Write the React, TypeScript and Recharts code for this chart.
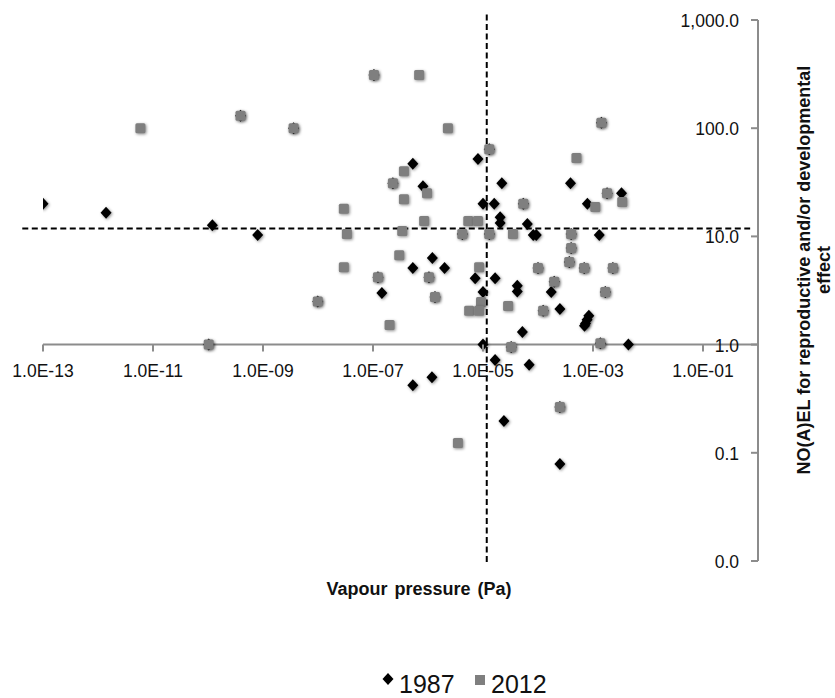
import React from 'react';
import { ScatterChart, Scatter, XAxis, YAxis, ReferenceLine } from 'recharts';

// Vapour pressure (Pa) vs NO(A)EL
const VP_1987 = [
  1.0e-13, 1.4e-12, 1.2e-10, 8.0e-10, 3.9e-10, 3.6e-9, 1.04e-7, 5.3e-7, 2.3e-7, 8.1e-7,
  8.1e-6, 1.3e-5, 2.2e-5, 1.0e-5, 1.6e-5, 2.05e-5, 2.05e-5, 5.4e-5, 6.4e-5, 8.2e-5,
  9.3e-5, 3.9e-4, 7.9e-4, 1.8e-3, 3.3e-3, 1.3e-3, 1.42e-3, 4.2e-6, 1.3e-5, 4.0e-4,
  4.0e-4, 3.7e-4, 1.0e-4, 6.9e-4, 2.3e-3, 1.2e-6, 5.3e-7, 2.0e-6, 1.23e-7, 1.04e-6,
  7.2e-6, 1.66e-5, 1.45e-7, 1.34e-6, 1.0e-5, 4.2e-5, 4.2e-5, 1.97e-4, 1.74e-4, 1.67e-3,
  1.24e-4, 2.5e-4, 8.4e-4, 7.8e-4, 7.3e-4, 7.0e-4, 5.2e-5, 1.0e-5, 3.25e-5, 1.36e-3,
  4.4e-3, 1.66e-5, 6.9e-5, 1.18e-6, 5.3e-7, 2.5e-4, 2.4e-5, 2.5e-4, 1.03e-10, 9.9e-9,
];
const NOAEL_1987 = [
  20, 16.5, 12.7, 10.3, 130, 100, 310, 47, 31, 29,
  52, 64, 31, 20, 20, 15, 13.3, 20, 13, 10.3,
  10.3, 31, 20, 25, 25, 10.3, 112, 10.5, 10.5, 10.5,
  7.8, 5.8, 5.1, 5.1, 5.1, 6.3, 5.1, 5.1, 4.2, 4.2,
  4.1, 4.1, 3.0, 2.75, 3.06, 3.5, 3.1, 3.8, 3.06, 3.06,
  2.05, 2.13, 1.85, 1.7, 1.57, 1.49, 1.31, 1.0, 0.95, 1.03,
  1.0, 0.72, 0.65, 0.5, 0.42, 0.265, 0.197, 0.079, 1.0, 2.5,
];

const VP_2012 = [
  5.9e-12, 3.9e-10, 3.6e-9, 1.04e-7, 6.9e-7, 2.3e-6, 1.3e-5, 5.0e-4, 1.42e-3, 3.65e-7,
  2.3e-7, 9.6e-7, 3.65e-7, 2.95e-8, 8.5e-7, 5.4e-6, 8.1e-6, 3.35e-8, 3.4e-7, 4.2e-6,
  1.3e-5, 3.5e-5, 5.4e-5, 1.8e-3, 3.4e-3, 1.1e-3, 4.0e-4, 4.0e-4, 3.7e-4, 1.0e-4,
  6.9e-4, 2.3e-3, 3.0e-7, 2.95e-8, 8.5e-6, 1.23e-7, 1.04e-6, 1.34e-6, 1.97e-4, 1.67e-3,
  9.2e-6, 5.6e-6, 8.5e-6, 2.86e-5, 1.24e-4, 9.9e-9, 2.0e-7, 1.03e-10, 3.25e-5, 1.36e-3,
  2.5e-4, 3.5e-6,
];
const NOAEL_2012 = [
  100, 130, 100, 310, 310, 100, 64, 53, 112, 40,
  31, 25, 22, 18, 13.9, 13.9, 13.9, 10.5, 11.2, 10.5,
  10.5, 10.5, 20, 25, 20.8, 18.7, 10.5, 7.8, 5.8, 5.1,
  5.1, 5.1, 6.7, 5.2, 5.2, 4.2, 4.2, 2.75, 3.8, 3.06,
  2.48, 2.05, 2.05, 2.27, 2.05, 2.5, 1.52, 1.0, 0.95, 1.03,
  0.265, 0.123,
];

const X_TICKS = [1e-13, 1e-11, 1e-9, 1e-7, 1e-5, 1e-3, 1e-1];
const Y_TICKS = [0.01, 0.1, 1, 10, 100, 1000];
const X_DOMAIN = [1e-13, 1];
const Y_DOMAIN = [0.01, 1000];

// cut-off lines (drawn a bit past the axes, like in the original)
const VP_CUTOFF = 1.17e-5;
const NOAEL_CUTOFF = 11.8;
const H_LINE_X = [4.2e-14, 0.72];
const V_LINE_Y = [0.0098, 1190];

const W = 835;
const H = 698;
const TOP = 20;
const PLOT_H = 541;
const AXIS = '#8c8c8c';
const FONT = '"Liberation Sans", Arial, sans-serif';

// y pixel of NOAEL = 1, where the horizontal axis crosses
const Y_ONE = TOP + PLOT_H * (Math.log10(Y_DOMAIN[1]) - 0) / (Math.log10(Y_DOMAIN[1]) - Math.log10(Y_DOMAIN[0]));

const toPoints = (xs: number[], ys: number[]) => xs.map((x, i) => ({ x, y: ys[i] }));
const data1987 = toPoints(VP_1987, NOAEL_1987);
const data2012 = toPoints(VP_2012, NOAEL_2012);

function fmtX(v: number) {
  const e = Math.round(Math.log10(v));
  return `1.0E${e < 0 ? '-' : '+'}${String(Math.abs(e)).padStart(2, '0')}`;
}

function fmtY(v: number) {
  return v.toLocaleString('en-US', { minimumFractionDigits: 1, maximumFractionDigits: 1 });
}

const XTick = ({ x, payload }: any) => (
  <g>
    <line x1={x} x2={x} y1={Y_ONE} y2={Y_ONE + 7} stroke={AXIS} strokeWidth={2} />
    <text x={x} y={Y_ONE + 32} textAnchor="middle" fontSize={17.5} fontFamily={FONT} fill="#111">
      {fmtX(payload.value)}
    </text>
  </g>
);

const YTick = ({ x, y, payload }: any) => (
  <g>
    <line x1={x - 7} x2={x} y1={y} y2={y} stroke={AXIS} strokeWidth={2} />
    <text x={x - 19} y={y + 7} textAnchor="end" fontSize={17.5} fontFamily={FONT} fill="#111">
      {fmtY(payload.value)}
    </text>
  </g>
);

const shadow = { filter: 'drop-shadow(1px 1px 1.5px rgba(0,0,0,0.45))' };

const Diamond = ({ cx, cy }: any) => (
  <path d={`M${cx},${cy - 6} L${cx + 5.5},${cy} L${cx},${cy + 6} L${cx - 5.5},${cy} Z`} fill="#000" style={shadow} />
);

const Square = ({ cx, cy }: any) => (
  <rect x={cx - 5} y={cy - 5} width={10} height={10} rx={1.5} fill="#7f7f7f" style={shadow} />
);

export default function App() {
  return (
    <div style={{ position: 'absolute', left: 0, top: 0, width: W, height: H, background: '#fff' }}>
      <ScatterChart width={W} height={H} margin={{ top: TOP, right: 76, bottom: H - TOP - PLOT_H - 1, left: 43 }}>
        <XAxis
          type="number"
          dataKey="x"
          scale="log"
          domain={X_DOMAIN}
          ticks={X_TICKS}
          allowDataOverflow
          height={1}
          axisLine={false}
          tickLine={false}
          tickSize={0}
          tickMargin={0}
          tick={<XTick />}
        />
        <YAxis
          type="number"
          dataKey="y"
          orientation="right"
          scale="log"
          domain={Y_DOMAIN}
          ticks={Y_TICKS}
          allowDataOverflow
          width={1}
          axisLine={{ stroke: AXIS, strokeWidth: 2 }}
          tickLine={false}
          tickSize={0}
          tickMargin={0}
          tick={<YTick />}
        />
        <ReferenceLine y={1} stroke={AXIS} strokeWidth={2} />
        <Scatter name="1987" data={data1987} shape={<Diamond />} isAnimationActive={false} />
        <Scatter name="2012" data={data2012} shape={<Square />} isAnimationActive={false} />
        <ReferenceLine
          segment={[{ x: H_LINE_X[0], y: NOAEL_CUTOFF }, { x: H_LINE_X[1], y: NOAEL_CUTOFF }]}
          stroke="#000" strokeWidth={2} strokeDasharray="6 3.5" ifOverflow="visible"
        />
        <ReferenceLine
          segment={[{ x: VP_CUTOFF, y: V_LINE_Y[0] }, { x: VP_CUTOFF, y: V_LINE_Y[1] }]}
          stroke="#000" strokeWidth={2} strokeDasharray="6 3.5" ifOverflow="visible"
        />
      </ScatterChart>

      {/* titles and legend */}
      <svg width={W} height={H} style={{ position: 'absolute', left: 0, top: 0, pointerEvents: 'none' }}>
        <text x={419} y={595} textAnchor="middle" fontSize={18} fontWeight="bold" fontFamily={FONT} fill="#111" wordSpacing={2}>
          Vapour pressure (Pa)
        </text>
        <g transform="rotate(-90 810 270)" fontSize={18} fontWeight="bold" fontFamily={FONT} fill="#111" textAnchor="middle">
          <text x={810} y={270}>NO(A)EL for reproductive and/or developmental</text>
          <text x={810} y={290}>effect</text>
        </g>
        <g fontFamily={FONT} fontSize={25} fill="#111">
          <path d="M388,673 L393.5,679 L388,685 L382.5,679 Z" fill="#000" />
          <text x={399} y={693}>1987</text>
          <rect x={475} y={675} width={10} height={10} fill="#7f7f7f" />
          <text x={491} y={693}>2012</text>
        </g>
      </svg>
    </div>
  );
}
